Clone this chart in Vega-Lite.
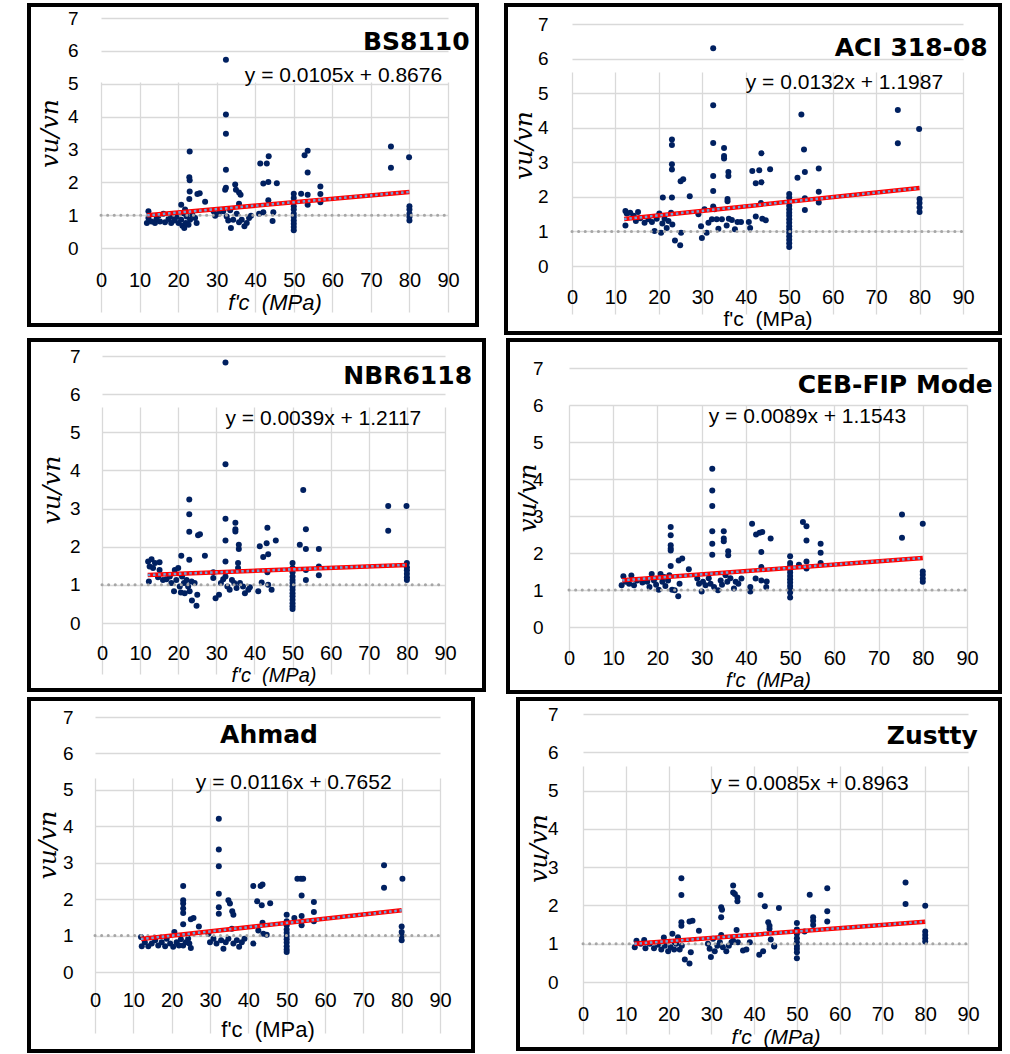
{
"$schema": "https://vega.github.io/schema/vega-lite/v6.json",
"padding": {"left": 27, "top": 3, "right": 0, "bottom": 0},
"background": "white",
"spacing": 3,
"datasets": {
"bs": [{"x":32.4,"y":5.73},{"x":32.4,"y":4.06},{"x":32.4,"y":3.48},{"x":32.4,"y":2.38},{"x":32.4,"y":1.83},{"x":32.2,"y":1.77},{"x":23.0,"y":2.94},{"x":22.9,"y":2.15},{"x":23.0,"y":2.06},{"x":23.0,"y":1.72},{"x":22.9,"y":1.49},{"x":25.0,"y":1.64},{"x":25.6,"y":1.67},{"x":27.0,"y":1.41},{"x":20.8,"y":1.32},{"x":21.8,"y":1.17},{"x":12.3,"y":1.12},{"x":34.8,"y":1.93},{"x":35.0,"y":1.77},{"x":35.8,"y":1.69},{"x":36.2,"y":1.62},{"x":35.8,"y":1.35},{"x":41.3,"y":2.57},{"x":43.0,"y":2.57},{"x":43.5,"y":2.79},{"x":42.1,"y":1.96},{"x":43.4,"y":2.01},{"x":45.6,"y":1.97},{"x":43.4,"y":1.45},{"x":42.1,"y":1.09},{"x":44.7,"y":1.09},{"x":44.5,"y":0.82},{"x":41.0,"y":1.04},{"x":50,"y":1.65},{"x":50,"y":1.52},{"x":50,"y":1.39},{"x":50,"y":1.27},{"x":50,"y":1.17},{"x":50,"y":1.04},{"x":50,"y":0.94},{"x":50,"y":0.84},{"x":50,"y":0.74},{"x":50,"y":0.64},{"x":50,"y":0.54},{"x":51.9,"y":1.65},{"x":52.8,"y":2.82},{"x":53.6,"y":2.96},{"x":53.6,"y":2.30},{"x":53.6,"y":1.62},{"x":53.6,"y":1.32},{"x":56.9,"y":1.87},{"x":56.9,"y":1.64},{"x":56.9,"y":1.39},{"x":75.2,"y":3.09},{"x":75.2,"y":2.44},{"x":79.9,"y":2.76},{"x":80,"y":1.27},{"x":80,"y":1.17},{"x":80,"y":1.04},{"x":80,"y":0.94},{"x":80,"y":0.84},{"x":11.9,"y":0.76},{"x":12.3,"y":0.91},{"x":13.1,"y":0.81},{"x":14.0,"y":0.76},{"x":14.4,"y":0.88},{"x":15.3,"y":0.81},{"x":16.2,"y":1.04},{"x":16.6,"y":0.78},{"x":17.5,"y":0.88},{"x":18.2,"y":0.76},{"x":19.0,"y":0.84},{"x":19.6,"y":0.94},{"x":20.1,"y":0.76},{"x":20.8,"y":0.86},{"x":21.1,"y":0.68},{"x":21.6,"y":0.61},{"x":22.0,"y":0.76},{"x":22.2,"y":0.96},{"x":22.7,"y":0.71},{"x":23.1,"y":0.86},{"x":23.7,"y":1.01},{"x":24.4,"y":0.91},{"x":24.8,"y":0.76},{"x":14.9,"y":0.98},{"x":18.5,"y":0.96},{"x":21.4,"y":1.06},{"x":29.2,"y":1.12},{"x":29.6,"y":0.98},{"x":30.5,"y":1.04},{"x":31.7,"y":1.12},{"x":32.6,"y":0.96},{"x":33.0,"y":0.84},{"x":33.7,"y":0.61},{"x":34.3,"y":0.86},{"x":35.2,"y":1.04},{"x":35.8,"y":0.78},{"x":36.5,"y":0.86},{"x":37.2,"y":0.66},{"x":37.8,"y":0.76},{"x":38.4,"y":0.91},{"x":38.9,"y":0.98},{"x":33.5,"y":1.15}],
"bs_t": [{"x":12,"y":0.9936},{"x":80,"y":1.7076}],
"aci": [{"x":32.5,"y":6.30},{"x":32.5,"y":4.65},{"x":32.5,"y":3.56},{"x":32.5,"y":2.60},{"x":32.5,"y":2.17},{"x":32.5,"y":1.72},{"x":23.0,"y":3.66},{"x":23.0,"y":3.50},{"x":23.0,"y":2.94},{"x":23.0,"y":2.79},{"x":20.9,"y":1.98},{"x":23.0,"y":1.98},{"x":25.0,"y":2.45},{"x":25.6,"y":2.51},{"x":27.1,"y":2.02},{"x":35.0,"y":3.41},{"x":35.0,"y":3.18},{"x":35.0,"y":3.11},{"x":36.0,"y":2.72},{"x":36.0,"y":2.60},{"x":35.8,"y":1.94},{"x":35.8,"y":1.87},{"x":41.5,"y":2.75},{"x":43.1,"y":2.77},{"x":43.6,"y":3.26},{"x":42.3,"y":2.39},{"x":43.6,"y":2.42},{"x":45.6,"y":2.80},{"x":43.5,"y":1.82},{"x":42.3,"y":1.43},{"x":43.8,"y":1.37},{"x":44.6,"y":1.32},{"x":52.8,"y":4.38},{"x":53.4,"y":3.37},{"x":53.6,"y":2.72},{"x":51.9,"y":2.55},{"x":53.6,"y":1.96},{"x":53.6,"y":1.62},{"x":56.8,"y":2.82},{"x":56.8,"y":2.15},{"x":56.8,"y":1.84},{"x":75.0,"y":4.51},{"x":75.0,"y":3.55},{"x":79.9,"y":3.96},{"x":80,"y":1.94},{"x":80,"y":1.82},{"x":80,"y":1.69},{"x":80,"y":1.56},{"x":50,"y":2.08},{"x":50,"y":1.98},{"x":50,"y":1.74},{"x":50,"y":1.64},{"x":50,"y":1.54},{"x":50,"y":1.45},{"x":50,"y":1.35},{"x":50,"y":1.25},{"x":50,"y":1.15},{"x":50,"y":1.06},{"x":50,"y":0.96},{"x":50,"y":0.86},{"x":50,"y":0.76},{"x":50,"y":0.66},{"x":50,"y":0.55},{"x":12.3,"y":1.59},{"x":12.6,"y":1.52},{"x":13.4,"y":1.54},{"x":14.2,"y":1.45},{"x":14.7,"y":1.30},{"x":15.2,"y":1.56},{"x":15.7,"y":1.38},{"x":16.7,"y":1.25},{"x":17.6,"y":1.35},{"x":18.4,"y":1.27},{"x":19.0,"y":1.01},{"x":19.5,"y":1.37},{"x":20.1,"y":1.52},{"x":20.5,"y":0.96},{"x":20.8,"y":1.23},{"x":21.3,"y":1.37},{"x":21.8,"y":1.10},{"x":22.2,"y":1.30},{"x":22.8,"y":1.54},{"x":23.1,"y":1.20},{"x":12.3,"y":1.17},{"x":23.7,"y":0.74},{"x":24.9,"y":0.60},{"x":25.1,"y":0.96},{"x":29.1,"y":1.50},{"x":29.7,"y":1.15},{"x":29.9,"y":0.81},{"x":30.5,"y":1.64},{"x":31.0,"y":0.96},{"x":31.4,"y":1.25},{"x":32.2,"y":1.35},{"x":32.8,"y":1.64},{"x":33.3,"y":1.35},{"x":33.7,"y":1.08},{"x":34.5,"y":1.35},{"x":35.6,"y":1.17},{"x":36.1,"y":1.37},{"x":36.8,"y":1.33},{"x":37.5,"y":1.06},{"x":38.1,"y":1.27},{"x":38.9,"y":1.27},{"x":40.7,"y":1.27},{"x":41.0,"y":1.10}],
"aci_t": [{"x":12,"y":1.357},{"x":80,"y":2.2547}],
"nbr": [{"x":32.4,"y":6.83},{"x":32.4,"y":4.16},{"x":32.4,"y":2.73},{"x":32.4,"y":2.16},{"x":32.4,"y":1.61},{"x":22.9,"y":3.24},{"x":22.9,"y":2.85},{"x":22.9,"y":2.39},{"x":25.2,"y":2.30},{"x":25.7,"y":2.33},{"x":20.8,"y":1.76},{"x":22.9,"y":1.66},{"x":27.0,"y":1.76},{"x":35.0,"y":2.63},{"x":35.0,"y":2.46},{"x":35.0,"y":2.40},{"x":35.9,"y":2.05},{"x":35.9,"y":1.94},{"x":35.7,"y":1.57},{"x":35.7,"y":1.44},{"x":43.4,"y":2.50},{"x":41.4,"y":2.01},{"x":43.2,"y":2.09},{"x":45.6,"y":2.16},{"x":42.3,"y":1.73},{"x":43.6,"y":1.80},{"x":43.4,"y":1.33},{"x":52.8,"y":3.49},{"x":53.5,"y":2.46},{"x":51.9,"y":2.05},{"x":53.5,"y":1.94},{"x":53.5,"y":1.39},{"x":53.5,"y":1.13},{"x":56.9,"y":1.94},{"x":56.9,"y":1.48},{"x":56.9,"y":1.25},{"x":75.1,"y":3.07},{"x":75.1,"y":2.42},{"x":79.9,"y":3.07},{"x":80,"y":1.57},{"x":80,"y":1.46},{"x":80,"y":1.38},{"x":80,"y":1.29},{"x":80,"y":1.20},{"x":80,"y":1.13},{"x":50,"y":1.57},{"x":50,"y":1.44},{"x":50,"y":1.33},{"x":50,"y":1.22},{"x":50,"y":1.13},{"x":50,"y":1.05},{"x":50,"y":0.96},{"x":50,"y":0.87},{"x":50,"y":0.78},{"x":50,"y":0.70},{"x":50,"y":0.61},{"x":50,"y":0.52},{"x":50,"y":0.44},{"x":50,"y":0.37},{"x":12.1,"y":1.61},{"x":12.3,"y":1.09},{"x":13.0,"y":1.67},{"x":12.5,"y":1.48},{"x":13.4,"y":1.44},{"x":13.9,"y":1.57},{"x":15.1,"y":1.59},{"x":15.1,"y":1.39},{"x":14.7,"y":1.20},{"x":16.0,"y":1.13},{"x":16.9,"y":1.15},{"x":17.8,"y":1.22},{"x":18.2,"y":1.05},{"x":18.9,"y":0.83},{"x":19.1,"y":1.39},{"x":19.5,"y":1.13},{"x":20.0,"y":1.44},{"x":20.4,"y":0.96},{"x":20.7,"y":0.80},{"x":21.0,"y":1.22},{"x":21.5,"y":1.05},{"x":21.7,"y":0.78},{"x":22.2,"y":1.13},{"x":22.6,"y":0.96},{"x":23.0,"y":0.83},{"x":23.5,"y":1.09},{"x":23.6,"y":0.59},{"x":24.8,"y":0.45},{"x":25.0,"y":0.74},{"x":24.3,"y":1.05},{"x":29.2,"y":1.33},{"x":29.2,"y":1.18},{"x":29.8,"y":0.65},{"x":30.7,"y":0.74},{"x":31.2,"y":1.05},{"x":31.8,"y":1.15},{"x":32.4,"y":1.22},{"x":32.9,"y":0.96},{"x":33.5,"y":0.87},{"x":34.1,"y":1.13},{"x":34.7,"y":1.05},{"x":35.3,"y":0.92},{"x":36.2,"y":1.05},{"x":37.0,"y":0.96},{"x":37.5,"y":0.78},{"x":38.4,"y":0.87},{"x":38.8,"y":0.94},{"x":41.0,"y":0.83},{"x":41.9,"y":1.06},{"x":44.5,"y":0.87},{"x":43.6,"y":1.00}],
"nbr_t": [{"x":12,"y":1.2585},{"x":80,"y":1.5237}],
"ceb": [{"x":32.4,"y":4.28},{"x":32.4,"y":3.69},{"x":32.4,"y":3.27},{"x":32.4,"y":2.59},{"x":32.4,"y":2.25},{"x":32.4,"y":1.95},{"x":23.0,"y":2.70},{"x":23.0,"y":2.48},{"x":23.0,"y":2.21},{"x":23.0,"y":2.12},{"x":23.0,"y":2.07},{"x":23.0,"y":1.65},{"x":24.8,"y":1.80},{"x":25.6,"y":1.85},{"x":27.1,"y":1.56},{"x":35.0,"y":2.59},{"x":35.0,"y":2.39},{"x":35.0,"y":2.32},{"x":36.0,"y":2.05},{"x":36.0,"y":1.94},{"x":41.4,"y":2.79},{"x":42.3,"y":2.50},{"x":43.1,"y":2.55},{"x":43.7,"y":2.57},{"x":45.6,"y":2.39},{"x":43.5,"y":2.03},{"x":43.5,"y":1.62},{"x":42.2,"y":1.31},{"x":43.5,"y":1.26},{"x":44.7,"y":1.23},{"x":52.9,"y":2.84},{"x":53.7,"y":2.72},{"x":53.7,"y":2.34},{"x":53.7,"y":1.77},{"x":53.7,"y":1.58},{"x":52.0,"y":1.68},{"x":56.9,"y":2.25},{"x":56.9,"y":2.01},{"x":56.9,"y":1.73},{"x":75.3,"y":3.04},{"x":75.3,"y":2.41},{"x":80.0,"y":2.79},{"x":80,"y":1.50},{"x":80,"y":1.41},{"x":80,"y":1.31},{"x":80,"y":1.22},{"x":50,"y":1.91},{"x":50,"y":1.73},{"x":50,"y":1.65},{"x":50,"y":1.56},{"x":50,"y":1.47},{"x":50,"y":1.38},{"x":50,"y":1.29},{"x":50,"y":1.20},{"x":50,"y":1.11},{"x":50,"y":1.02},{"x":50,"y":0.93},{"x":50,"y":0.80},{"x":11.9,"y":1.13},{"x":12.3,"y":1.37},{"x":12.8,"y":1.22},{"x":13.6,"y":1.17},{"x":14.1,"y":1.39},{"x":14.7,"y":1.13},{"x":15.4,"y":1.26},{"x":16.6,"y":1.20},{"x":17.7,"y":1.22},{"x":18.2,"y":1.08},{"x":18.7,"y":1.43},{"x":19.2,"y":1.26},{"x":19.7,"y":1.14},{"x":20.3,"y":1.01},{"x":20.7,"y":1.43},{"x":21.1,"y":1.22},{"x":21.5,"y":1.35},{"x":21.8,"y":1.11},{"x":22.4,"y":1.26},{"x":22.7,"y":1.40},{"x":23.3,"y":1.01},{"x":23.9,"y":0.99},{"x":24.7,"y":0.83},{"x":25.0,"y":1.17},{"x":29.0,"y":1.31},{"x":29.4,"y":1.17},{"x":30.0,"y":0.96},{"x":30.3,"y":1.22},{"x":30.9,"y":1.13},{"x":31.6,"y":1.32},{"x":32.0,"y":1.17},{"x":32.8,"y":1.08},{"x":33.7,"y":0.99},{"x":34.3,"y":1.26},{"x":34.6,"y":1.14},{"x":35.4,"y":1.40},{"x":35.8,"y":1.22},{"x":36.5,"y":1.32},{"x":37.3,"y":1.04},{"x":37.7,"y":1.22},{"x":38.3,"y":1.17},{"x":39.0,"y":1.31},{"x":41.0,"y":0.96},{"x":41.0,"y":1.08},{"x":44.6,"y":1.08}],
"ceb_t": [{"x":12,"y":1.2611},{"x":80,"y":1.8663}],
"ahm": [{"x":32.3,"y":4.21},{"x":32.3,"y":3.36},{"x":32.3,"y":2.90},{"x":32.3,"y":2.15},{"x":32.3,"y":1.78},{"x":32.3,"y":1.60},{"x":23.0,"y":2.36},{"x":23.0,"y":1.97},{"x":23.0,"y":1.88},{"x":23.0,"y":1.74},{"x":23.0,"y":1.62},{"x":23.0,"y":1.31},{"x":25.0,"y":1.45},{"x":25.7,"y":1.48},{"x":27.1,"y":1.25},{"x":34.8,"y":1.97},{"x":35.2,"y":1.88},{"x":35.8,"y":1.67},{"x":36.1,"y":1.57},{"x":41.3,"y":2.36},{"x":43.2,"y":2.36},{"x":43.7,"y":2.40},{"x":42.3,"y":1.94},{"x":43.5,"y":1.83},{"x":45.7,"y":1.89},{"x":43.7,"y":1.35},{"x":42.6,"y":1.14},{"x":44.8,"y":1.02},{"x":52.8,"y":2.56},{"x":53.7,"y":2.56},{"x":54.3,"y":2.56},{"x":53.9,"y":2.10},{"x":52.0,"y":1.48},{"x":53.9,"y":1.54},{"x":53.9,"y":1.28},{"x":57.1,"y":1.92},{"x":57.1,"y":1.65},{"x":57.1,"y":1.39},{"x":75.4,"y":2.93},{"x":75.4,"y":2.31},{"x":80.2,"y":2.56},{"x":80,"y":1.25},{"x":80,"y":1.10},{"x":80,"y":0.99},{"x":80,"y":0.87},{"x":50,"y":1.57},{"x":50,"y":1.39},{"x":50,"y":1.28},{"x":50,"y":1.17},{"x":50,"y":1.08},{"x":50,"y":0.99},{"x":50,"y":0.90},{"x":50,"y":0.81},{"x":50,"y":0.71},{"x":50,"y":0.62},{"x":50,"y":0.55},{"x":12.0,"y":0.96},{"x":12.2,"y":0.71},{"x":13.0,"y":0.82},{"x":13.9,"y":0.71},{"x":14.8,"y":0.78},{"x":15.7,"y":0.87},{"x":16.5,"y":0.73},{"x":17.4,"y":0.82},{"x":18.3,"y":0.71},{"x":18.7,"y":0.91},{"x":19.6,"y":0.78},{"x":20.4,"y":0.69},{"x":20.7,"y":1.10},{"x":21.3,"y":0.82},{"x":21.9,"y":0.73},{"x":22.4,"y":0.90},{"x":23.0,"y":0.73},{"x":23.7,"y":0.82},{"x":24.3,"y":0.91},{"x":25.0,"y":0.66},{"x":24.6,"y":0.78},{"x":29.6,"y":1.05},{"x":30.0,"y":0.82},{"x":30.9,"y":0.91},{"x":31.7,"y":0.78},{"x":32.9,"y":0.87},{"x":33.5,"y":0.64},{"x":34.1,"y":0.82},{"x":34.8,"y":0.91},{"x":35.7,"y":1.19},{"x":36.1,"y":0.78},{"x":37.0,"y":0.87},{"x":37.6,"y":0.69},{"x":38.3,"y":0.82},{"x":39.0,"y":0.91},{"x":41.3,"y":0.78},{"x":43.9,"y":1.05}],
"ahm_t": [{"x":12,"y":0.9044},{"x":80,"y":1.6932}],
"zus": [{"x":23.0,"y":2.71},{"x":23.0,"y":2.27},{"x":23.0,"y":1.56},{"x":23.0,"y":1.47},{"x":24.9,"y":1.58},{"x":25.6,"y":1.60},{"x":27.1,"y":1.34},{"x":20.9,"y":1.26},{"x":18.9,"y":1.16},{"x":32.3,"y":1.95},{"x":32.5,"y":1.89},{"x":32.3,"y":1.69},{"x":32.3,"y":1.23},{"x":35.1,"y":2.52},{"x":35.1,"y":2.34},{"x":35.5,"y":2.30},{"x":36.1,"y":2.21},{"x":36.1,"y":2.11},{"x":35.9,"y":1.36},{"x":41.5,"y":2.27},{"x":42.5,"y":1.98},{"x":45.8,"y":1.93},{"x":43.3,"y":1.56},{"x":43.6,"y":1.47},{"x":43.6,"y":1.39},{"x":43.9,"y":1.11},{"x":44.7,"y":0.93},{"x":53.0,"y":2.28},{"x":53.8,"y":1.69},{"x":53.8,"y":1.60},{"x":53.8,"y":1.49},{"x":51.8,"y":1.32},{"x":57.1,"y":2.45},{"x":57.1,"y":1.85},{"x":57.1,"y":1.58},{"x":75.4,"y":2.60},{"x":75.4,"y":2.04},{"x":80.0,"y":1.99},{"x":80,"y":1.32},{"x":80,"y":1.23},{"x":80,"y":1.14},{"x":80,"y":1.06},{"x":50,"y":1.54},{"x":50,"y":1.37},{"x":50,"y":1.26},{"x":50,"y":1.14},{"x":50,"y":1.04},{"x":50,"y":0.95},{"x":50,"y":0.87},{"x":50,"y":0.78},{"x":50,"y":0.62},{"x":12.1,"y":0.91},{"x":12.5,"y":1.08},{"x":13.5,"y":1.00},{"x":14.3,"y":1.10},{"x":14.6,"y":0.88},{"x":15.6,"y":1.00},{"x":16.6,"y":0.88},{"x":17.5,"y":0.97},{"x":18.3,"y":0.85},{"x":19.1,"y":0.95},{"x":19.9,"y":0.80},{"x":20.5,"y":0.91},{"x":21.3,"y":0.85},{"x":21.8,"y":1.00},{"x":22.2,"y":1.17},{"x":22.6,"y":0.85},{"x":23.1,"y":0.95},{"x":23.8,"y":0.59},{"x":24.9,"y":0.48},{"x":25.2,"y":0.78},{"x":21.4,"y":1.04},{"x":29.2,"y":1.00},{"x":29.6,"y":0.87},{"x":29.9,"y":0.65},{"x":30.4,"y":1.13},{"x":30.8,"y":0.80},{"x":31.4,"y":0.95},{"x":32.0,"y":1.04},{"x":32.7,"y":0.91},{"x":33.5,"y":0.80},{"x":34.1,"y":0.95},{"x":34.7,"y":1.04},{"x":35.1,"y":1.08},{"x":36.2,"y":1.04},{"x":37.4,"y":0.82},{"x":38.2,"y":0.85},{"x":39.0,"y":1.04},{"x":41.2,"y":0.71},{"x":42.1,"y":0.80},{"x":44.7,"y":0.95}],
"zus_t": [{"x":12,"y":0.9983},{"x":80,"y":1.5763}]
},
"vconcat": [
{"spacing": 25, "hconcat": [
{"width": 448, "height": 320, "layer": [
 {"data": {"name": "bs"}, "mark": {"type": "circle", "size": 36, "color": "#002060", "opacity": 1},
  "encoding": {
   "x": {"field": "x", "type": "quantitative", "scale": {"domain": [0, 90], "range": [72, 419], "nice": false, "zero": false},
         "axis": {"values": [0,10,20,30,40,50,60,70,80,90], "offset": -77, "labelPadding": 22, "title": "f'c\u00a0 (MPa)", "titlePadding": 2, "titleFontStyle": "italic"}},
   "y": {"field": "y", "type": "quantitative", "scale": {"domain": [0, 7], "range": [243, 13], "nice": false, "zero": false},
         "axis": {"values": [0,1,2,3,4,5,6,7], "offset": -72, "labelPadding": 23, "title": "vu/vn", "titlePadding": 5}}}},
 {"data": {"values": [{}]}, "mark": {"type": "rule", "color": "#a6a6a6", "strokeWidth": 3, "strokeDash": [0.1, 6.5], "strokeCap": "round"},
  "encoding": {"x": {"datum": 0}, "x2": {"datum": 90}, "y": {"datum": 1}}},
 {"data": {"name": "bs_t"}, "mark": {"type": "line", "color": "#ff0000", "strokeWidth": 4.5},
  "encoding": {"x": {"field": "x", "type": "quantitative"}, "y": {"field": "y", "type": "quantitative"}}},
 {"data": {"name": "bs_t"}, "mark": {"type": "line", "color": "#6fa0d8", "strokeWidth": 2.5, "strokeDash": [2.5, 2.7]},
  "encoding": {"x": {"field": "x", "type": "quantitative"}, "y": {"field": "y", "type": "quantitative"}}},
 {"data": {"values": [{}]}, "mark": {"type": "text", "text": "BS8110", "align": "right", "baseline": "middle", "font": "DejaVu Sans", "fontWeight": "bold", "fontSize": 25, "color": "black", "clip": true},
  "encoding": {"x": {"datum": 95.6}, "y": {"datum": 6.26}}},
 {"data": {"values": [{}]}, "mark": {"type": "text", "text": "y = 0.0105x + 0.8676", "align": "left", "baseline": "middle", "font": "Liberation Sans", "fontSize": 21, "color": "black"},
  "encoding": {"x": {"datum": 37.3}, "y": {"datum": 5.22}}}
]},
{"width": 494, "height": 328, "layer": [
 {"data": {"name": "aci"}, "mark": {"type": "circle", "size": 36, "color": "#002060", "opacity": 1},
  "encoding": {
   "x": {"field": "x", "type": "quantitative", "scale": {"domain": [0, 90], "range": [66, 457], "nice": false, "zero": false},
         "axis": {"values": [0,10,20,30,40,50,60,70,80,90], "offset": -67, "labelPadding": 21, "title": "f'c\u00a0 (MPa)", "titlePadding": 1, "titleFontStyle": "normal", "titleFontSize": 21}},
   "y": {"field": "y", "type": "quantitative", "scale": {"domain": [0, 7], "range": [261, 19], "nice": false, "zero": false},
         "axis": {"values": [0,1,2,3,4,5,6,7], "offset": -66, "labelPadding": 24, "title": "vu/vn", "titlePadding": 1}}}},
 {"data": {"values": [{}]}, "mark": {"type": "rule", "color": "#a6a6a6", "strokeWidth": 3, "strokeDash": [0.1, 6.5], "strokeCap": "round"},
  "encoding": {"x": {"datum": 0}, "x2": {"datum": 90}, "y": {"datum": 1}}},
 {"data": {"name": "aci_t"}, "mark": {"type": "line", "color": "#ff0000", "strokeWidth": 4.5},
  "encoding": {"x": {"field": "x", "type": "quantitative"}, "y": {"field": "y", "type": "quantitative"}}},
 {"data": {"name": "aci_t"}, "mark": {"type": "line", "color": "#6fa0d8", "strokeWidth": 2.5, "strokeDash": [2.5, 2.7]},
  "encoding": {"x": {"field": "x", "type": "quantitative"}, "y": {"field": "y", "type": "quantitative"}}},
 {"data": {"values": [{}]}, "mark": {"type": "text", "text": "ACI 318-08", "align": "right", "baseline": "middle", "font": "DejaVu Sans", "fontWeight": "bold", "fontSize": 25, "color": "black", "clip": true},
  "encoding": {"x": {"datum": 95.7}, "y": {"datum": 6.31}}},
 {"data": {"values": [{}]}, "mark": {"type": "text", "text": "y = 0.0132x + 1.1987", "align": "left", "baseline": "middle", "font": "Liberation Sans", "fontSize": 21, "color": "black"},
  "encoding": {"x": {"datum": 40.0}, "y": {"datum": 5.29}}}
]}
]},
{"spacing": 20, "hconcat": [
{"width": 455, "height": 350, "layer": [
 {"data": {"name": "nbr"}, "mark": {"type": "circle", "size": 36, "color": "#002060", "opacity": 1},
  "encoding": {
   "x": {"field": "x", "type": "quantitative", "scale": {"domain": [0, 90], "range": [73, 416], "nice": false, "zero": false},
         "axis": {"values": [0,10,20,30,40,50,60,70,80,90], "offset": -67, "labelPadding": 20, "title": "f'c\u00a0 (MPa)", "titlePadding": 2, "titleFontStyle": "italic", "titleFontSize": 20}},
   "y": {"field": "y", "type": "quantitative", "scale": {"domain": [0, 7], "range": [283, 16], "nice": false, "zero": false},
         "axis": {"values": [0,1,2,3,4,5,6,7], "offset": -73, "labelPadding": 22, "title": "vu/vn", "titlePadding": 5}}}},
 {"data": {"values": [{}]}, "mark": {"type": "rule", "color": "#a6a6a6", "strokeWidth": 3, "strokeDash": [0.1, 6.5], "strokeCap": "round"},
  "encoding": {"x": {"datum": 0}, "x2": {"datum": 90}, "y": {"datum": 1}}},
 {"data": {"name": "nbr_t"}, "mark": {"type": "line", "color": "#ff0000", "strokeWidth": 4.5},
  "encoding": {"x": {"field": "x", "type": "quantitative"}, "y": {"field": "y", "type": "quantitative"}}},
 {"data": {"name": "nbr_t"}, "mark": {"type": "line", "color": "#6fa0d8", "strokeWidth": 2.5, "strokeDash": [2.5, 2.7]},
  "encoding": {"x": {"field": "x", "type": "quantitative"}, "y": {"field": "y", "type": "quantitative"}}},
 {"data": {"values": [{}]}, "mark": {"type": "text", "text": "NBR6118", "align": "left", "baseline": "middle", "font": "DejaVu Sans", "fontWeight": "bold", "fontSize": 25, "color": "black", "clip": true},
  "encoding": {"x": {"datum": 63.3}, "y": {"datum": 6.47}}},
 {"data": {"values": [{}]}, "mark": {"type": "text", "text": "y = 0.0039x + 1.2117", "align": "left", "baseline": "middle", "font": "Liberation Sans", "fontSize": 21, "color": "black"},
  "encoding": {"x": {"datum": 32.4}, "y": {"datum": 5.36}}}
]},
{"width": 492, "height": 352, "layer": [
 {"data": {"name": "ceb"}, "mark": {"type": "circle", "size": 36, "color": "#002060", "opacity": 1},
  "encoding": {
   "x": {"field": "x", "type": "quantitative", "scale": {"domain": [0, 90], "range": [61, 459], "nice": false, "zero": false},
         "axis": {"values": [0,10,20,30,40,50,60,70,80,90], "offset": -65, "labelPadding": 21, "title": "f'c\u00a0 (MPa)", "titlePadding": 2, "titleFontStyle": "italic", "titleFontSize": 20}},
   "y": {"field": "y", "type": "quantitative", "scale": {"domain": [0, 7], "range": [287, 28], "nice": false, "zero": false},
         "axis": {"values": [0,1,2,3,4,5,6,7], "offset": -61, "labelPadding": 26, "title": "vu/vn", "titlePadding": -8}}}},
 {"data": {"values": [{}]}, "mark": {"type": "rule", "color": "#a6a6a6", "strokeWidth": 3, "strokeDash": [0.1, 6.5], "strokeCap": "round"},
  "encoding": {"x": {"datum": 0}, "x2": {"datum": 90}, "y": {"datum": 1}}},
 {"data": {"name": "ceb_t"}, "mark": {"type": "line", "color": "#ff0000", "strokeWidth": 4.5},
  "encoding": {"x": {"field": "x", "type": "quantitative"}, "y": {"field": "y", "type": "quantitative"}}},
 {"data": {"name": "ceb_t"}, "mark": {"type": "line", "color": "#6fa0d8", "strokeWidth": 2.5, "strokeDash": [2.5, 2.7]},
  "encoding": {"x": {"field": "x", "type": "quantitative"}, "y": {"field": "y", "type": "quantitative"}}},
 {"data": {"values": [{}]}, "mark": {"type": "text", "text": "CEB-FIP Mode", "align": "left", "baseline": "middle", "font": "DejaVu Sans", "fontWeight": "bold", "fontSize": 25, "color": "black", "clip": true},
  "encoding": {"x": {"datum": 51.7}, "y": {"datum": 6.55}}},
 {"data": {"values": [{}]}, "mark": {"type": "text", "text": "y = 0.0089x + 1.1543", "align": "left", "baseline": "middle", "font": "Liberation Sans", "fontSize": 21, "color": "black"},
  "encoding": {"x": {"datum": 31.6}, "y": {"datum": 5.68}}}
]}
]},
{"spacing": 41, "hconcat": [
{"width": 444, "height": 352, "layer": [
 {"data": {"name": "ahm"}, "mark": {"type": "circle", "size": 36, "color": "#002060", "opacity": 1},
  "encoding": {
   "x": {"field": "x", "type": "quantitative", "scale": {"domain": [0, 90], "range": [66, 411], "nice": false, "zero": false},
         "axis": {"values": [0,10,20,30,40,50,60,70,80,90], "offset": -79, "labelPadding": 18, "title": "f'c\u00a0 (MPa)", "titlePadding": 9, "titleFontStyle": "normal"}},
   "y": {"field": "y", "type": "quantitative", "scale": {"domain": [0, 7], "range": [273, 18], "nice": false, "zero": false},
         "axis": {"values": [0,1,2,3,4,5,6,7], "offset": -66, "labelPadding": 22, "title": "vu/vn", "titlePadding": 2}}}},
 {"data": {"values": [{}]}, "mark": {"type": "rule", "color": "#a6a6a6", "strokeWidth": 3, "strokeDash": [0.1, 6.5], "strokeCap": "round"},
  "encoding": {"x": {"datum": 0}, "x2": {"datum": 90}, "y": {"datum": 1}}},
 {"data": {"name": "ahm_t"}, "mark": {"type": "line", "color": "#ff0000", "strokeWidth": 4.5},
  "encoding": {"x": {"field": "x", "type": "quantitative"}, "y": {"field": "y", "type": "quantitative"}}},
 {"data": {"name": "ahm_t"}, "mark": {"type": "line", "color": "#6fa0d8", "strokeWidth": 2.5, "strokeDash": [2.5, 2.7]},
  "encoding": {"x": {"field": "x", "type": "quantitative"}, "y": {"field": "y", "type": "quantitative"}}},
 {"data": {"values": [{}]}, "mark": {"type": "text", "text": "Ahmad", "align": "center", "baseline": "middle", "font": "DejaVu Sans", "fontWeight": "bold", "fontSize": 25, "color": "black", "clip": true},
  "encoding": {"x": {"datum": 45.4}, "y": {"datum": 6.5}}},
 {"data": {"values": [{}]}, "mark": {"type": "text", "text": "y = 0.0116x + 0.7652", "align": "left", "baseline": "middle", "font": "Liberation Sans", "fontSize": 21, "color": "black"},
  "encoding": {"x": {"datum": 26.3}, "y": {"datum": 5.19}}}
]},
{"width": 482, "height": 350, "layer": [
 {"data": {"name": "zus"}, "mark": {"type": "circle", "size": 36, "color": "#002060", "opacity": 1},
  "encoding": {
   "x": {"field": "x", "type": "quantitative", "scale": {"domain": [0, 90], "range": [65, 450], "nice": false, "zero": false},
         "axis": {"values": [0,10,20,30,40,50,60,70,80,90], "offset": -67, "labelPadding": 22, "title": "f'c\u00a0 (MPa)", "titlePadding": 2, "titleFontStyle": "italic", "titleFontSize": 21}},
   "y": {"field": "y", "type": "quantitative", "scale": {"domain": [0, 7], "range": [283, 15], "nice": false, "zero": false},
         "axis": {"values": [0,1,2,3,4,5,6,7], "offset": -65, "labelPadding": 25, "title": "vu/vn", "titlePadding": -4}}}},
 {"data": {"values": [{}]}, "mark": {"type": "rule", "color": "#a6a6a6", "strokeWidth": 3, "strokeDash": [0.1, 6.5], "strokeCap": "round"},
  "encoding": {"x": {"datum": 0}, "x2": {"datum": 90}, "y": {"datum": 1}}},
 {"data": {"name": "zus_t"}, "mark": {"type": "line", "color": "#ff0000", "strokeWidth": 4.5},
  "encoding": {"x": {"field": "x", "type": "quantitative"}, "y": {"field": "y", "type": "quantitative"}}},
 {"data": {"name": "zus_t"}, "mark": {"type": "line", "color": "#6fa0d8", "strokeWidth": 2.5, "strokeDash": [2.5, 2.7]},
  "encoding": {"x": {"field": "x", "type": "quantitative"}, "y": {"field": "y", "type": "quantitative"}}},
 {"data": {"values": [{}]}, "mark": {"type": "text", "text": "Zustty", "align": "right", "baseline": "middle", "font": "DejaVu Sans", "fontWeight": "bold", "fontSize": 25, "color": "black", "clip": true},
  "encoding": {"x": {"datum": 92.3}, "y": {"datum": 6.42}}},
 {"data": {"values": [{}]}, "mark": {"type": "text", "text": "y = 0.0085x + 0.8963", "align": "left", "baseline": "middle", "font": "Liberation Sans", "fontSize": 21, "color": "black"},
  "encoding": {"x": {"datum": 30.0}, "y": {"datum": 5.16}}}
]}
]}
],
"config": {
 "view": {"stroke": "black", "strokeWidth": 4},
 "axis": {"grid": true, "gridColor": "#d9d9d9", "gridWidth": 1.3, "domain": false, "ticks": false, "labelColor": "black", "labelFont": "Liberation Sans", "labelFontSize": 20, "labelFlush": false, "labelOverlap": false, "titleColor": "black", "titleFontWeight": "normal"},
 "axisX": {"titleFont": "Liberation Sans", "titleFontSize": 22},
 "axisY": {"titleFont": "DejaVu Serif", "titleFontStyle": "italic", "titleFontSize": 25, "labelFontSize": 19}
}
}
